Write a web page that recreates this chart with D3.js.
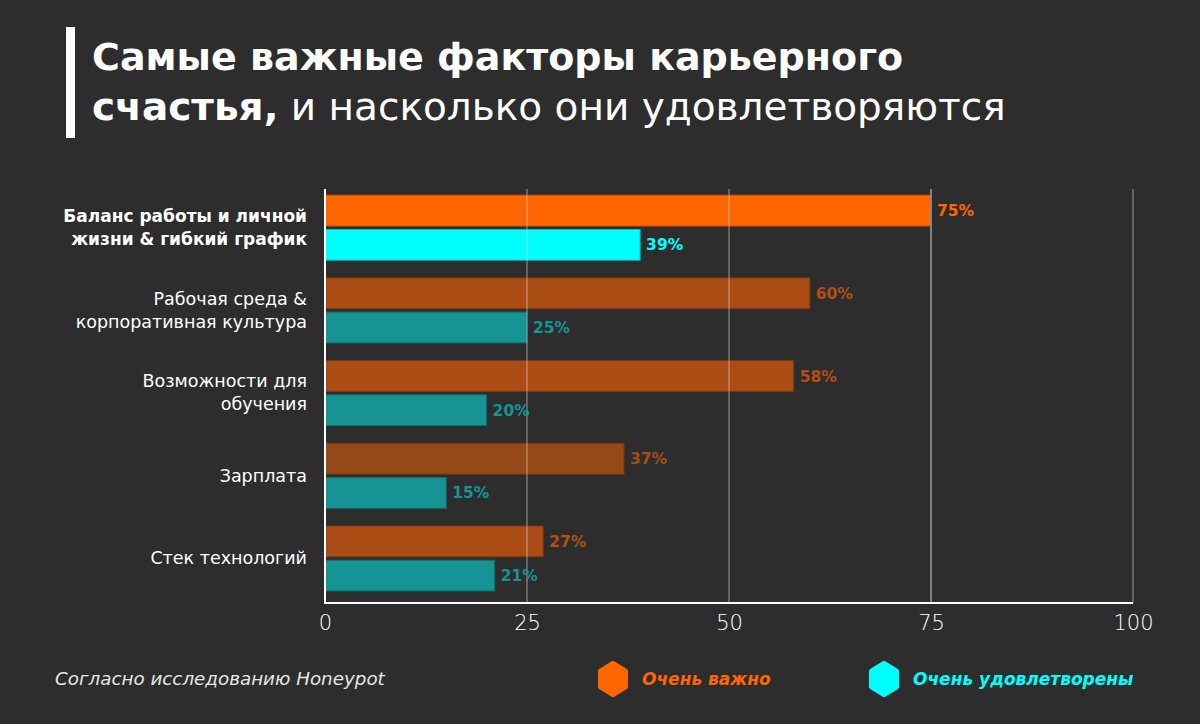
<!DOCTYPE html>
<html>
<head>
<meta charset="utf-8">
<script src="https://cdn.jsdelivr.net/npm/d3@7"></script>
<style>
  html, body { margin: 0; padding: 0; background: #2d2d2d; }
  svg { display: block; }
</style>
</head>
<body>
<div id="chart"></div>
<script>
// Data
const categories = [
  ["Баланс работы и личной", "жизни & гибкий график"],
  ["Рабочая среда &", "корпоративная культура"],
  ["Возможности для", "обучения"],
  ["Зарплата"],
  ["Стек технологий"]
];
const important = [75, 60, 58, 37, 27];
const satisfied = [39, 25, 20, 15, 21];
const xTicks = [0, 25, 50, 75, 100];
const seriesNames = ["Очень важно", "Очень удовлетворены"];

function drawChart() {
  const width = 1200;
  const height = 724;
  const font = "'DejaVu Sans', 'Noto Sans', sans-serif";

  const svg = d3.select("#chart")
    .append("svg")
    .attr("width", width)
    .attr("height", height)
    .style("background-color", "#2d2d2d")
    .style("font-family", font);

  // Title
  svg.append("rect")
    .attr("x", 66).attr("y", 27)
    .attr("width", 9).attr("height", 111)
    .attr("fill", "#ffffff");

  svg.append("text")
    .attr("x", 92).attr("y", 70)
    .attr("fill", "#fff")
    .attr("font-size", 38)
    .attr("font-weight", 700)
    .text("Самые важные факторы карьерного");

  const t2 = svg.append("text")
    .attr("x", 92).attr("y", 120)
    .attr("fill", "#fff")
    .attr("font-size", 39);
  t2.append("tspan").attr("font-weight", 700).text("счастья,");
  t2.append("tspan").attr("font-weight", 400).text(" и насколько они удовлетворяются");

  // Scales
  const x = d3.scaleLinear().domain([0, 100]).range([325, 1133]);
  const y = d3.scaleBand()
    .domain(d3.range(categories.length))
    .range([189, 597.2])
    .paddingInner(0.214)
    .paddingOuter(0.075);
  const sub = d3.scaleBand()
    .domain([0, 1])
    .range([0, y.bandwidth()])
    .paddingInner(0.1);

  const plotTop = 189;
  const plotBottom = 603;

  const orangeFill = (d, i) => i === 0 ? "#ff6600" : (i === 3 ? "#954818" : "#aa4c14");
  const orangeStroke = (d, i) => i === 0 ? "#d95200" : "#7e3910";
  const cyanFill = (d, i) => i === 0 ? "#00ffff" : "#169494";
  const cyanStroke = (d, i) => i === 0 ? "#10b8b8" : "#0f6b6b";
  const orangeText = (d, i) => i === 0 ? "#ff6600" : (i === 3 ? "#a54c17" : "#b24f15");
  const cyanText = (d, i) => i === 0 ? "#00ffff" : "#169494";

  // Bars
  svg.append("g").selectAll("rect")
    .data(important)
    .join("rect")
    .attr("x", x(0))
    .attr("y", (d, i) => y(i) + sub(0))
    .attr("width", d => x(d) - x(0))
    .attr("height", sub.bandwidth())
    .attr("fill", orangeFill)
    .attr("stroke", orangeStroke)
    .attr("stroke-width", 1);

  svg.append("g").selectAll("rect")
    .data(satisfied)
    .join("rect")
    .attr("x", x(0))
    .attr("y", (d, i) => y(i) + sub(1))
    .attr("width", d => x(d) - x(0))
    .attr("height", sub.bandwidth())
    .attr("fill", cyanFill)
    .attr("stroke", cyanStroke)
    .attr("stroke-width", 1);

  // Grid lines (drawn over the bars, semi transparent)
  svg.append("g").selectAll("line")
    .data(xTicks.slice(1))
    .join("line")
    .attr("x1", d => x(d)).attr("x2", d => x(d))
    .attr("y1", plotTop).attr("y2", plotBottom)
    .attr("stroke", d => d === 75 ? "#8a8a8a" : "#d0d0d0")
    .attr("stroke-opacity", d => d === 75 ? 0.9 : 0.55)
    .attr("stroke-width", d => d === 75 ? 2 : 1.2);

  // Axes lines
  svg.append("line")
    .attr("x1", x(0)).attr("x2", x(0))
    .attr("y1", plotTop).attr("y2", plotBottom + 1)
    .attr("stroke", "#ffffff").attr("stroke-width", 2);
  svg.append("line")
    .attr("x1", x(0) - 1).attr("x2", x(100))
    .attr("y1", plotBottom).attr("y2", plotBottom)
    .attr("stroke", "#ffffff").attr("stroke-width", 2);

  // Value labels
  svg.append("g").selectAll("text")
    .data(important)
    .join("text")
    .attr("x", d => x(d) + 6)
    .attr("y", (d, i) => y(i) + sub(0) + sub.bandwidth() / 2)
    .attr("dy", "0.36em")
    .attr("fill", orangeText)
    .attr("font-size", 15.5)
    .attr("font-weight", 700)
    .text(d => d + "%");

  svg.append("g").selectAll("text")
    .data(satisfied)
    .join("text")
    .attr("x", d => x(d) + 6)
    .attr("y", (d, i) => y(i) + sub(1) + sub.bandwidth() / 2)
    .attr("dy", "0.36em")
    .attr("fill", cyanText)
    .attr("font-size", 15.5)
    .attr("font-weight", 700)
    .text(d => d + "%");

  // Category labels
  const lineH = 23;
  const labels = svg.append("g").selectAll("text")
    .data(categories)
    .join("text")
    .attr("x", 307)
    .attr("y", (d, i) => y(i) + y.bandwidth() / 2 - (d.length - 1) * lineH / 2)
    .attr("text-anchor", "end")
    .attr("fill", "#ffffff")
    .attr("font-size", (d, i) => i === 0 ? 17 : 17.5)
    .attr("font-weight", (d, i) => i === 0 ? 700 : 400);
  labels.selectAll("tspan")
    .data(d => d)
    .join("tspan")
    .attr("x", 307)
    .attr("dy", (d, j) => j === 0 ? "0.33em" : lineH)
    .text(d => d);

  // X axis tick labels
  const axis = svg.append("g")
    .attr("transform", `translate(0, ${plotBottom})`)
    .call(d3.axisBottom(x).tickValues(xTicks).tickSize(0).tickPadding(12));
  axis.select(".domain").remove();
  axis.selectAll("text")
    .attr("fill", "#ffffff")
    .attr("font-size", 21)
    .attr("font-weight", 200)
    .attr("font-family", font);

  // Footnote
  svg.append("text")
    .attr("x", 55).attr("y", 685)
    .attr("fill", "#e6e6e6")
    .attr("font-size", 18.3)
    .attr("font-style", "italic")
    .text("Согласно исследованию Honeypot");

  // Legend
  const legendX = [613, 884];
  const legendColors = ["#ff6600", "#00ffff"];
  const hex = d3.range(6).map(k => {
    const a = Math.PI / 3 * k - Math.PI / 2;
    return [14.5 * Math.cos(a), 15.5 * Math.sin(a)];
  });
  const legend = svg.append("g").selectAll("g")
    .data(seriesNames)
    .join("g")
    .attr("transform", (d, i) => `translate(${legendX[i]}, 679)`);
  legend.append("path")
    .attr("d", d3.line()(hex) + "Z")
    .attr("fill", (d, i) => legendColors[i])
    .attr("stroke", (d, i) => legendColors[i])
    .attr("stroke-width", 5)
    .attr("stroke-linejoin", "round");
  legend.append("text")
    .attr("x", 29)
    .attr("y", 0)
    .attr("dy", "0.36em")
    .attr("fill", (d, i) => legendColors[i])
    .attr("font-size", 17)
    .attr("font-weight", 700)
    .attr("font-style", "italic")
    .text(d => d);
}

drawChart();
</script>
</body>
</html>
